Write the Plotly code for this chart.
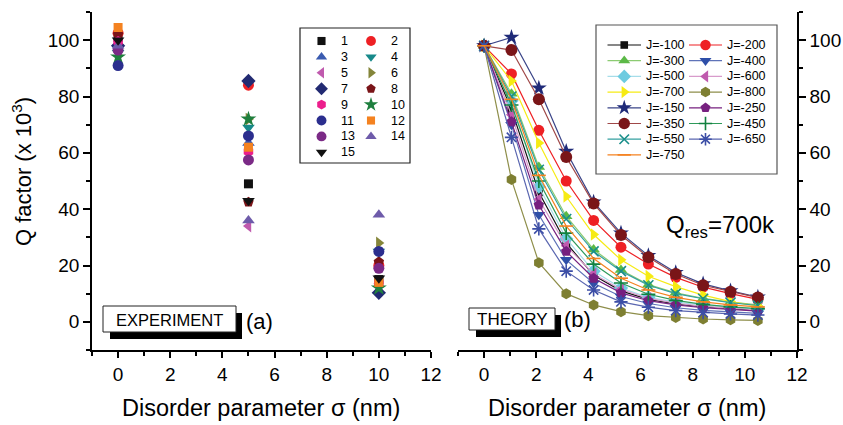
import plotly.graph_objects as go

W, H = 843, 425
FONT = "Liberation Sans, Arial, sans-serif"

# ---------------- data ----------------
exp_x = [0, 5, 10]
exp_labels = ["1", "2", "3", "4", "5", "6", "7", "8", "9", "10", "11", "12", "13", "14", "15"]
exp_1 = [101, 49, 15]
exp_2 = [102.5, 84, 20]
exp_3 = [99, 63.5, 11]
exp_4 = [95.5, 69, 25]
exp_5 = [97, 34, 13.5]
exp_6 = [94.5, 72, 28]
exp_7 = [98, 85.5, 10.3]
exp_8 = [102, 42.5, 21.3]
exp_9 = [99.5, 60.5, 13.7]
exp_10 = [94, 72, 12]
exp_11 = [91, 66, 25]
exp_12 = [104.5, 62, 14]
exp_13 = [96.5, 57.5, 19]
exp_14 = [98, 36, 38]
exp_15 = [100, 43, 15.5]
exp_values = [exp_1, exp_2, exp_3, exp_4, exp_5, exp_6, exp_7, exp_8,
              exp_9, exp_10, exp_11, exp_12, exp_13, exp_14, exp_15]

th_x = [0, 1.05, 2.1, 3.15, 4.2, 5.25, 6.3, 7.35, 8.4, 9.45, 10.5]
th_labels = ["J=-100", "J=-200", "J=-300", "J=-400", "J=-500", "J=-600", "J=-700", "J=-800",
             "J=-150", "J=-250", "J=-350", "J=-450", "J=-550", "J=-650", "J=-750"]
J_100 = [98, 75.5, 46, 28, 16.5, 11, 8, 6.4, 5.3, 4.6, 4.1]
J_200 = [98, 88, 68, 50, 36, 26.5, 20.5, 15.8, 12.3, 10, 8]
J_300 = [98, 81, 55, 37.5, 25.7, 18.4, 13.2, 10.3, 8.3, 7, 6]
J_400 = [98, 70, 38, 22, 13.7, 9, 6.5, 5, 4.1, 3.5, 3]
J_500 = [98, 78.5, 48, 29.5, 18, 12, 8.7, 7, 5.9, 5.1, 4.5]
J_600 = [98, 73.5, 43.5, 27, 17, 11.5, 8.3, 6.6, 5.5, 4.8, 4.2]
J_700 = [98, 85.5, 63.5, 44.5, 31, 22, 16.2, 12.5, 9.5, 7.2, 5.6]
J_800 = [98, 50.5, 21, 10, 6, 3.6, 2.2, 1.5, 1, 0.7, 0.5]
J_150 = [98, 101, 83, 60.5, 42.5, 31.5, 23.5, 17.5, 13.5, 11, 8.8]
J_250 = [98, 71, 41.5, 25, 15.5, 10.3, 7.5, 6, 5, 4.3, 3.8]
J_350 = [98, 96.5, 79, 58.5, 42, 30.8, 22.9, 17, 13, 10.7, 8.6]
J_450 = [98, 77, 50, 31.5, 20.5, 13.8, 9.8, 7.6, 6.2, 5.3, 4.7]
J_550 = [98, 80, 54, 36.5, 25, 18, 13, 10, 8.2, 6.8, 5.8]
J_650 = [98, 65.5, 33, 18, 11.3, 7.1, 5.2, 4, 3.3, 2.8, 2.4]
J_750 = [98, 79, 52, 34, 22.5, 15.5, 11.3, 8.7, 7.1, 6, 5.3]
th_values = [J_100, J_200, J_300, J_400, J_500, J_600, J_700, J_800,
             J_150, J_250, J_350, J_450, J_550, J_650, J_750]

x_ticks = [0, 2, 4, 6, 8, 10, 12]
y_ticks = [0, 20, 40, 60, 80, 100]

# ---------------- styles ----------------
exp_styles = [
    ("square", "#111111", 9), ("circle", "#EE2024", 11), ("triangle-up", "#3A5BB0", 11),
    ("triangle-down", "#17898A", 11), ("triangle-left", "#C05AAE", 11), ("triangle-right", "#84853A", 11),
    ("diamond", "#222A72", 11), ("pentagon", "#7A1418", 11), ("hexagon", "#EC1E8C", 11),
    ("star", "#1E7F3E", 12), ("circle", "#2B2E8E", 11), ("square", "#F48220", 9),
    ("circle", "#7B2A86", 11), ("triangle-up", "#6E5BAA", 11), ("triangle-down", "#111111", 11),
]
th_styles = [
    ("square", "#111111", "#111111", 8), ("circle", "#EE2024", "#EE2024", 11),
    ("triangle-up", "#5CB947", "#8CCB72", 11), ("triangle-down", "#2E4FA8", "#5F73B8", 11),
    ("diamond", "#6DCBE0", "#A6DDE9", 11), ("triangle-left", "#C05AAE", "#D89BCB", 11),
    ("triangle-right", "#F6EB14", "#F6EB14", 11), ("hexagon", "#7E7F32", "#8E8E4A", 11),
    ("star", "#1F2A78", "#3A4488", 12), ("pentagon", "#76207F", "#76207F", 11),
    ("circle", "#7A1518", "#A04848", 12), ("cross-thin", "#11813F", "#2E9A5A", 10),
    ("x-thin", "#1A8F8A", "#35A0A0", 10), ("asterisk", "#3C4EA6", "#5A66B0", 11),
    ("line-ew", "#F48220", "#F48220", 10),
]
OPEN_LINE = {"cross-thin", "x-thin", "asterisk", "line-ew"}


def marker_dict(sym, col, size):
    if sym in OPEN_LINE:
        return dict(symbol=sym, size=size, color=col, line=dict(color=col, width=1.6))
    return dict(symbol=sym, size=size, color=col, line=dict(width=0))


fig = go.Figure()

# ---- experiment (left panel) ----
for vals, (sym, col, size) in zip(exp_values, exp_styles):
    fig.add_trace(go.Scatter(x=exp_x, y=vals, mode="markers", xaxis="x", yaxis="y",
                             marker=marker_dict(sym, col, size), showlegend=False))

# ---- theory (right panel) ----
for vals, (sym, mcol, lcol, size) in zip(th_values, th_styles):
    fig.add_trace(go.Scatter(x=th_x, y=vals, mode="lines+markers", xaxis="x2", yaxis="y2",
                             line=dict(color=lcol, width=1.2),
                             marker=marker_dict(sym, mcol, size), showlegend=False))

shapes = []
annotations = []

# left legend (pixel overlay axis x5/y5)
shapes.append(dict(type="rect", xref="x5", yref="y5", x0=300, x1=410, y0=28, y1=163,
                   line=dict(color="#222222", width=1.2), fillcolor="rgba(0,0,0,0)", layer="above"))
for i, (lab, (sym, col, size)) in enumerate(zip(exp_labels, exp_styles)):
    row, colm = i // 2, i % 2
    yy = 41 + row * 15.9
    mx = 321.5 if colm == 0 else 371
    tx = 339 if colm == 0 else 389
    fig.add_trace(go.Scatter(x=[mx], y=[yy], mode="markers", xaxis="x5", yaxis="y5",
                             marker=marker_dict(sym, col, size * 0.9), showlegend=False,
                             cliponaxis=False))
    annotations.append(dict(xref="x5", yref="y5", x=tx, y=yy, text=lab, showarrow=False,
                            xanchor="left", yanchor="middle",
                            font=dict(family=FONT, size=12.5, color="black")))

# right legend
shapes.append(dict(type="rect", xref="x5", yref="y5", x0=596, x1=777, y0=25, y1=174,
                   line=dict(color="#555555", width=1.2), fillcolor="rgba(0,0,0,0)", layer="above"))
for i, (lab, (sym, mcol, lcol, size)) in enumerate(zip(th_labels, th_styles)):
    row, colm = i // 2, i % 2
    yy = 45 + row * 15.7
    x0, x1 = (607.5, 641) if colm == 0 else (689, 722)
    tx = 644 if colm == 0 else 725
    xm = (x0 + x1) / 2
    fig.add_trace(go.Scatter(x=[x0, x1], y=[yy, yy], mode="lines", xaxis="x5", yaxis="y5",
                             line=dict(color=lcol if sym != "square" else mcol, width=1.2),
                             showlegend=False, cliponaxis=False))
    fig.add_trace(go.Scatter(x=[xm], y=[yy], mode="markers", xaxis="x5", yaxis="y5",
                             marker=marker_dict(sym, mcol, size * 0.95), showlegend=False,
                             cliponaxis=False))
    annotations.append(dict(xref="x5", yref="y5", x=tx, y=yy, text=lab, showarrow=False,
                            xanchor="left", yanchor="middle",
                            font=dict(family=FONT, size=12.5, color="black")))


# text boxes with drop shadow
def box(x0, y0, x1, y1, text, size):
    shapes.append(dict(type="rect", xref="x5", yref="y5", x0=x0 + 7, x1=x1 + 6, y0=y0 + 7, y1=y1 + 7,
                       line=dict(width=0), fillcolor="black", layer="above"))
    shapes.append(dict(type="rect", xref="x5", yref="y5", x0=x0, x1=x1, y0=y0, y1=y1,
                       line=dict(color="#222222", width=1), fillcolor="white", layer="above"))
    annotations.append(dict(xref="x5", yref="y5", x=(x0 + x1) / 2, y=(y0 + y1) / 2 + 0.5, text=text,
                            showarrow=False, xanchor="center", yanchor="middle",
                            font=dict(family=FONT, size=size, color="black")))


box(103, 306, 236, 332, "EXPERIMENT", 16.5)
box(469, 308, 555, 330, "THEORY", 17)

annotations.append(dict(xref="x5", yref="y5", x=244, y=321, text="(a)", showarrow=False,
                        xanchor="left", yanchor="middle", font=dict(family=FONT, size=22, color="black")))
annotations.append(dict(xref="x5", yref="y5", x=562, y=319, text="(b)", showarrow=False,
                        xanchor="left", yanchor="middle", font=dict(family=FONT, size=22, color="black")))
annotations.append(dict(xref="x5", yref="y5", x=664, y=226, text="Q<sub>res</sub>=700k", showarrow=False,
                        xanchor="left", yanchor="middle", font=dict(family=FONT, size=24, color="black")))

# axis titles
annotations.append(dict(xref="x5", yref="y5", x=261, y=408, text="Disorder parameter σ (nm)",
                        showarrow=False, xanchor="center", yanchor="middle",
                        font=dict(family=FONT, size=23.5, color="black")))
annotations.append(dict(xref="x5", yref="y5", x=627, y=408, text="Disorder parameter σ (nm)",
                        showarrow=False, xanchor="center", yanchor="middle",
                        font=dict(family=FONT, size=23.5, color="black")))
annotations.append(dict(xref="x5", yref="y5", x=22, y=172, text="Q factor (x 10<sup>3</sup>)",
                        showarrow=False, xanchor="center", yanchor="middle", textangle=-90,
                        font=dict(family=FONT, size=22, color="black")))

# ---------------- axes ----------------
xd1 = [92 / W, 431 / W]
xd2 = [458 / W, 797 / W]
yd = [1 - 350 / H, 1 - 12 / H]
tickfont = dict(family=FONT, size=19, color="black")


def xmain(anchor, domain):
    return dict(domain=domain, anchor=anchor, range=[-1, 12], tickvals=x_ticks,
                ticks="outside", ticklen=6, tickwidth=1.5, tickcolor="black",
                minor=dict(dtick=1, tick0=0, ticks="outside", ticklen=4, tickwidth=1.5, tickcolor="black"),
                showline=True, linewidth=1.5, linecolor="black", showgrid=False, zeroline=False,
                tickfont=tickfont, automargin=False, fixedrange=True)


def xmirror(over, anchor):
    return dict(overlaying=over, anchor=anchor, side="top", range=[-1, 12], tickvals=x_ticks,
                ticks="inside", ticklen=5, tickwidth=1.5, tickcolor="black",
                minor=dict(dtick=1, tick0=0, ticks="inside", ticklen=3, tickwidth=1.5, tickcolor="black"),
                showline=True, linewidth=1.5, linecolor="black", showgrid=False, zeroline=False,
                showticklabels=False, automargin=False)


def ymain(anchor, side):
    return dict(domain=yd, anchor=anchor, side=side, range=[-10, 110], tickvals=y_ticks,
                ticks="outside", ticklen=7, tickwidth=1.5, tickcolor="black",
                minor=dict(dtick=10, tick0=0, ticks="outside", ticklen=4, tickwidth=1.5, tickcolor="black"),
                showline=True, linewidth=1.5, linecolor="black", showgrid=False, zeroline=False,
                tickfont=tickfont, automargin=False, fixedrange=True)


def ymirror(over, anchor, side):
    return dict(overlaying=over, anchor=anchor, side=side, range=[-10, 110], tickvals=y_ticks,
                ticks="inside", ticklen=6, tickwidth=1.5, tickcolor="black",
                minor=dict(dtick=10, tick0=0, ticks="inside", ticklen=4, tickwidth=1.5, tickcolor="black"),
                showline=True, linewidth=1.5, linecolor="black", showgrid=False, zeroline=False,
                showticklabels=False, automargin=False)


fig.update_layout(
    width=W, height=H, margin=dict(l=0, r=0, t=0, b=0),
    paper_bgcolor="white", plot_bgcolor="rgba(0,0,0,0)",
    font=dict(family=FONT, color="black"),
    showlegend=False,
    xaxis=xmain("y", xd1),
    yaxis=ymain("x", "left"),
    xaxis2=xmain("y2", xd2),
    yaxis2=ymain("x2", "right"),
    xaxis3=xmirror("x", "y"),
    yaxis3=ymirror("y", "x", "right"),
    xaxis4=xmirror("x2", "y2"),
    yaxis4=ymirror("y2", "x2", "left"),
    xaxis5=dict(domain=[0, 1], range=[0, W], anchor="y5", visible=False, fixedrange=True),
    yaxis5=dict(domain=[0, 1], range=[H, 0], anchor="x5", visible=False, fixedrange=True),
    shapes=shapes,
    annotations=annotations,
)

fig.write_html("out.html", config={"displayModeBar": False})
